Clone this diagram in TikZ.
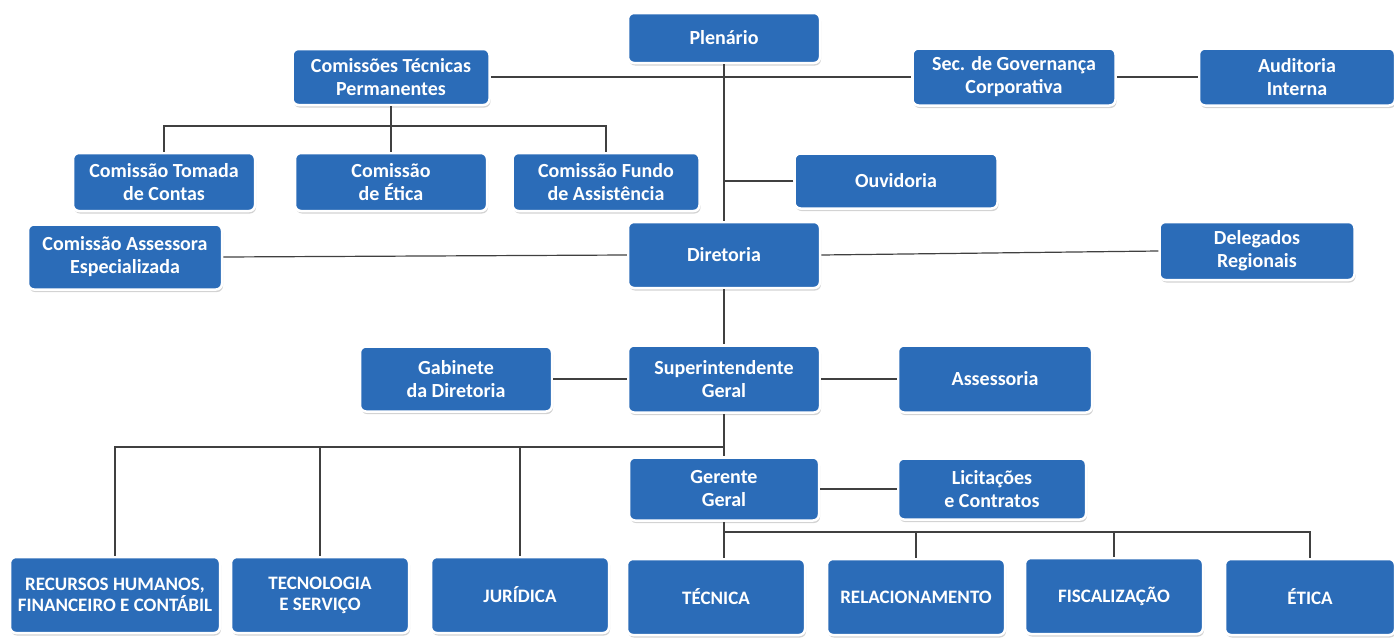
\documentclass[tikz,border=0pt]{standalone}
\usepackage{fontspec}
\setmainfont{Carlito}
\usetikzlibrary{shadows}
\definecolor{boxblue}{HTML}{2B6CB8}
\definecolor{linegray}{HTML}{404040}

\begin{document}
\begin{tikzpicture}[x=1pt, y=-1pt,
    box/.style={rounded corners=6pt, fill=boxblue, draw=white, line width=2.5pt,
        drop shadow={opacity=0.35, shadow xshift=1pt, shadow yshift=-2.5pt},
        text=white, font=\fontsize{20}{23}\selectfont\bfseries, align=center,
        inner sep=0pt, minimum width=192pt, minimum height=58pt},
    lowbox/.style={box, font=\fontsize{19}{21}\selectfont\bfseries,
        minimum width=178pt, minimum height=76pt},
    link/.style={linegray, line width=1.2pt}]

    \useasboundingbox (0,0) rectangle (1394,637);

    % top level
    \node [box, minimum height=50pt] (plen) at (724,38) {Plenário};
    \node [box, minimum width=197pt, minimum height=56pt] (ctp) at (391,77) {Comissões Técnicas\\Permanentes};
    \node [box, minimum width=203pt, minimum height=57pt] (sec) at (1014,77) {Sec. de Governança\\Corporativa};
    \node [box, minimum width=196pt, minimum height=57pt] (aud) at (1297,77) {Auditoria\\Interna};

    % comissoes
    \node [box, minimum width=182pt] (ctc) at (164,182) {Comissão Tomada\\de Contas};
    \node [box] (cet) at (391,182) {Comissão\\de Ética};
    \node [box, minimum width=187pt] (cfa) at (606,182) {Comissão Fundo\\de Assistência};
    \node [box, minimum width=203pt, minimum height=55pt] (ouv) at (896,181) {Ouvidoria};

    % diretoria
    \node [box, minimum height=66pt] (dir) at (724,255) {Diretoria};
    \node [box, minimum width=194pt, minimum height=65pt] (cae) at (125,257) {Comissão Assessora\\Especializada};
    \node [box, minimum width=195pt] (del) at (1257,251) {Delegados\\Regionais};

    % superintendencia
    \node [box, minimum height=65pt] (gab) at (456,379) {Gabinete\\da Diretoria};
    \node [box, minimum height=67pt] (sup) at (724,379) {Superintendente\\Geral};
    \node [box, minimum width=194pt, minimum height=67pt] (ass) at (995,379) {Assessoria};

    \node [box, minimum width=190pt, minimum height=63pt] (ger) at (724,489) {Gerente\\Geral};
    \node [box, minimum width=188pt, minimum height=61pt] (lic) at (992,489) {Licitações\\e Contratos};

    % areas
    \node [lowbox, minimum width=210pt] (rh) at (115,595) {RECURSOS HUMANOS,\\FINANCEIRO E CONTÁBIL};
    \node [lowbox] (tse) at (320,595) {TECNOLOGIA\\E SERVIÇO};
    \node [lowbox] (jur) at (520,595) {JURÍDICA};
    \node [lowbox] (tec) at (716,597) {TÉCNICA};
    \node [lowbox] (rel) at (916,597) {RELACIONAMENTO};
    \node [lowbox] (fis) at (1114,596) {FISCALIZAÇÃO};
    \node [lowbox, minimum width=170pt] (eti) at (1310,597) {ÉTICA};

    \coordinate (barc) at (391,126);
    \coordinate (bars) at (724,447);
    \coordinate (barg) at (724,532);

    % connectors
    \draw [link] (ctp.east) -- (sec.west);
    \draw [link] (sec.east) -- (aud.west);
    \draw [link] (plen.south) -- (dir.north);
    \draw [link] (ouv.west) -- (ouv.west -| plen.south);

    \draw [link] (ctp.south) -- (barc);
    \draw [link] (ctc.north) |- (barc) -| (cfa.north);
    \draw [link] (cet.north) -- (barc);

    \draw [link] (dir.west) -- (cae.east);
    \draw [link] (dir.east) -- (del.west);
    \draw [link] (dir.south) -- (sup.north);
    \draw [link] (gab.east) -- (sup.west);
    \draw [link] (sup.east) -- (ass.west);

    \draw [link] (sup.south) -- (ger.north);
    \draw [link] (rh.north) |- (bars);
    \draw [link] (tse.north) -- (tse.north |- bars);
    \draw [link] (jur.north) -- (jur.north |- bars);
    \draw [link] (ger.east) -- (lic.west);

    \draw [link] (ger.south) -- (ger.south |- tec.north);
    \draw [link] (barg) -| (eti.north);
    \draw [link] (rel.north) -- (rel.north |- barg);
    \draw [link] (fis.north) -- (fis.north |- barg);

\end{tikzpicture}
\end{document}
